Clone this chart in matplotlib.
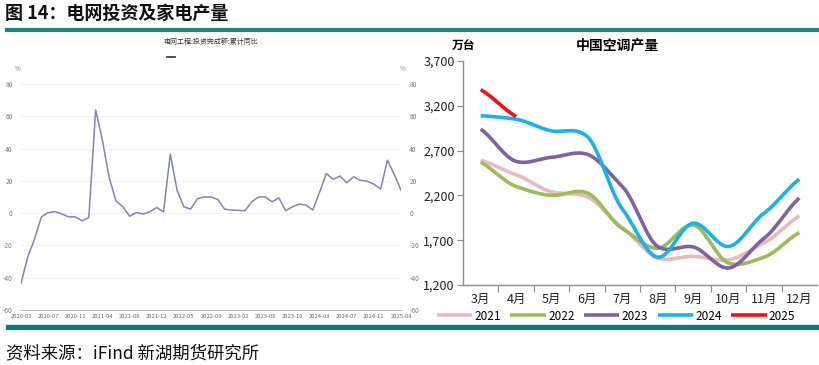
import numpy as np
import matplotlib
matplotlib.use("Agg")
import matplotlib.pyplot as plt
from matplotlib.lines import Line2D

plt.rcParams['font.family'] = ['Noto Sans CJK SC', 'DejaVu Sans']
plt.rcParams['axes.unicode_minus'] = False

# ---- left chart data: grid investment, cumulative yoy (%)
grid_ticks = ['2020-03', '2020-07', '2020-11', '2021-04', '2021-08', '2021-12', '2022-05',
              '2022-09', '2023-02', '2023-06', '2023-10', '2024-03', '2024-07', '2024-11', '2025-04']
grid_yoy = [-43.5, -27, -16, -2.3, 0.3, 1.0, -0.5, -2.3, -2.3, -4.8, -2.7, 64,
            45, 22, 7.5, 4, -1.9, 0.4, -0.6, 0.8, 3.5, 0.8, 36.5,
            14.2, 3.9, 2.5, 9, 10, 10, 8.5, 2.5, 1.9, 1.7, 1.5,
            7, 10, 10, 7, 9.5, 1.5, 3.9, 5.6, 5, 1.9, 13,
            24.5, 21, 23, 18.8, 22.5, 20.4, 19.8, 18, 14.9, 32.8, 24, 14.2]

# ---- right chart data: China air conditioner output (10k units)
months = ['3月', '4月', '5月', '6月', '7月', '8月', '9月', '10月', '11月', '12月']
ac_2021 = [2595, 2430, 2240, 2185, 1840, 1500, 1520, 1480, 1670, 1970]
ac_2022 = [2570, 2300, 2200, 2230, 1830, 1610, 1870, 1445, 1510, 1785]
ac_2023 = [2940, 2580, 2625, 2660, 2300, 1630, 1625, 1390, 1720, 2170]
ac_2024 = [3090, 3050, 2920, 2860, 2050, 1510, 1890, 1630, 2000, 2380]
ac_2025 = [3380, 3080]
years = ['2021', '2022', '2023', '2024', '2025']
colors = ['#e9b9bd', '#9bbb59', '#7f62a0', '#19b1e6', '#ee1111']


def smooth(ys, steps=30, tension=0.75):
    # Catmull-Rom style curve through the points (like Excel's smoothed line)
    ys = np.asarray(ys, dtype=float)
    p = np.concatenate([[2 * ys[0] - ys[1]], ys, [2 * ys[-1] - ys[-2]]])
    t = np.linspace(0, 1, steps, endpoint=False)
    h00 = 2 * t ** 3 - 3 * t ** 2 + 1
    h10 = t ** 3 - 2 * t ** 2 + t
    h01 = -2 * t ** 3 + 3 * t ** 2
    h11 = t ** 3 - t ** 2
    xo, yo = [], []
    for i in range(len(ys) - 1):
        p0, p1, p2, p3 = p[i], p[i + 1], p[i + 2], p[i + 3]
        m1 = tension * (p2 - p0) / 2
        m2 = tension * (p3 - p1) / 2
        xo.append(i + t)
        yo.append(h00 * p1 + h10 * m1 + h01 * p2 + h11 * m2)
    xo.append([len(ys) - 1])
    yo.append([ys[-1]])
    return np.concatenate(xo), np.concatenate(yo)


fig = plt.figure(figsize=(8.2, 3.65), dpi=100)
W, H = 820, 365

# header and frame lines
fig.text(5 / W, 1 - 13 / H, '图 14：电网投资及家电产量', fontsize=13, fontweight='bold',
         va='center', ha='left', color='#111111')
fig.add_artist(Line2D([7 / W, 1], [1 - 30 / H] * 2, color='#1b8780', lw=3))
fig.add_artist(Line2D([8 / W, 1], [1 - 327 / H] * 2, color='#0f7a72', lw=3.8))
fig.text(6 / W, 1 - 353 / H, '资料来源：iFind 新湖期货研究所', fontsize=12.5,
         va='center', ha='left', color='#111111')

# ---- left chart
ax1 = fig.add_axes([21 / W, 1 - 310 / H, 380 / W, 226 / H])
xs = np.arange(len(grid_yoy))
ax1.plot(xs, grid_yoy, color='#8284b3', lw=1.1)
ax1.set_xlim(0, len(grid_yoy) - 1)
ax1.set_ylim(-60, 80)
ax1.set_yticks(range(-60, 81, 20))
ax1.set_xticks(range(0, len(grid_yoy), 4))
ax1.set_xticklabels(grid_ticks)
ax1.grid(axis='y', color='#ececec', lw=0.6)
ax1.set_axisbelow(True)
for s in ['left', 'right', 'top']:
    ax1.spines[s].set_visible(False)
ax1.spines['bottom'].set_color('#aaaaaa')
ax1.spines['bottom'].set_linewidth(0.6)
ax1.tick_params(axis='y', length=0, labelsize=4.8, labelcolor='#777777',
                labelright=True, pad=6)
ax1.tick_params(axis='x', length=0, labelsize=4.2, labelcolor='#666666', pad=3)
fig.text(18 / W, 1 - 69 / H, '%', fontsize=4.5, color='#777777', ha='center', va='center')
fig.text(403 / W, 1 - 69 / H, '%', fontsize=4.5, color='#777777', ha='center', va='center')
fig.text(211 / W, 1 - 42 / H, '电网工程:投资完成额:累计同比', fontsize=5, color='#333333',
         ha='center', va='center')
fig.add_artist(Line2D([167 / W, 175 / W], [1 - 57 / H] * 2, color='#3a3a5c', lw=1.3))

# ---- right chart
ax2 = fig.add_axes([463 / W, 1 - 285 / H, 354 / W, 224 / H])
series = [ac_2021, ac_2022, ac_2023, ac_2024, ac_2025]
for vals, c, lab in zip(series, colors, years):
    sx, sy = smooth(vals)
    ax2.plot(sx, sy, color=c, lw=2.6, label=lab, solid_capstyle='butt')
ax2.set_xlim(-0.5, len(months) - 0.5)
ax2.set_ylim(1200, 3700)
ax2.set_yticks(range(1200, 3701, 500))
ax2.set_yticklabels([f'{v:,}' for v in range(1200, 3701, 500)])
ax2.set_xticks(range(len(months)))
ax2.set_xticklabels(months)
ax2.set_xticks(np.arange(0.5, len(months) - 0.5, 1), minor=True)
for s in ['right', 'top']:
    ax2.spines[s].set_visible(False)
for s in ['left', 'bottom']:
    ax2.spines[s].set_color('#8c8c8c')
    ax2.spines[s].set_linewidth(1.0)
ax2.tick_params(axis='x', which='major', length=0, labelsize=9, pad=6, labelcolor='#222222')
ax2.tick_params(axis='x', which='minor', length=5, color='#8c8c8c', width=0.8)
ax2.tick_params(axis='y', length=4, color='#8c8c8c', width=0.8, labelsize=9,
                labelcolor='#222222', pad=2)
fig.text(464 / W, 1 - 46 / H, '万台', fontsize=8.5, fontweight='bold', ha='center', va='center')
fig.text(617 / W, 1 - 46 / H, '中国空调产量', fontsize=10, fontweight='bold', ha='center', va='center')
fig.legend(loc='center', bbox_to_anchor=(616 / W, 1 - 316 / H), ncol=5, frameon=False,
           fontsize=8.5, handlelength=3.0, handletextpad=0.2, columnspacing=0.8,
           borderaxespad=0)

fig.savefig('out.png', dpi=100)
